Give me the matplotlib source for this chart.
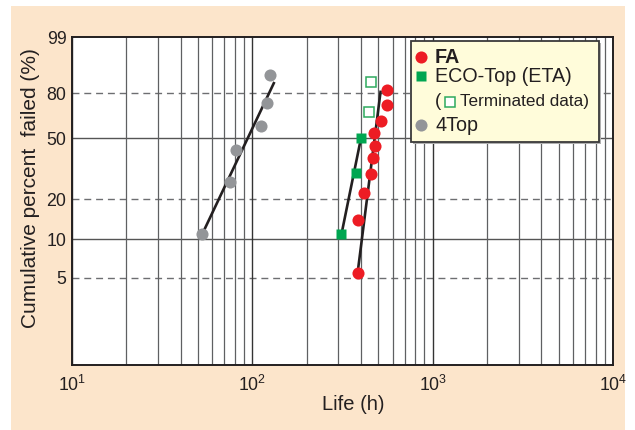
import matplotlib
matplotlib.use("Agg")
import matplotlib.pyplot as plt
import numpy as np
from matplotlib.patches import Rectangle

plt.rcParams['font.family'] = ['Liberation Sans', 'DejaVu Sans']
plt.rcParams['mathtext.fontset'] = 'custom'
plt.rcParams['mathtext.rm'] = 'Liberation Sans'

# values (life in h, cumulative failed in %)
fa_life = [384, 384, 415, 457, 466, 477, 473, 519, 557, 561]
fa_pct = [5.5, 14.1, 22.0, 29.8, 38.4, 45.4, 53.8, 61.4, 72.8, 82.1]
fa_fit_life = [385, 515]
fa_fit_pct = [5.7, 81.6]

eco_life = [312, 378, 401]
eco_pct = [10.9, 30.3, 50.5]
eco_term_life = [442, 457]
eco_term_pct = [68.1, 86.1]
eco_fit_life = [312, 401]
eco_fit_pct = [10.9, 50.5]

top4_life = [52.6, 74.9, 81.2, 111.8, 121.1, 125.9]
top4_pct = [10.9, 26.6, 42.5, 58.0, 73.9, 89.5]
top4_fit_life = [53.5, 132.5]
top4_fit_pct = [11.4, 86.3]

y_ticks = [5, 10, 20, 50, 80, 99]
x_decades = [10, 100, 1000, 10000]

RED = '#ED1C24'
GREEN = '#00A651'
GRAY = '#939598'
INK = '#231F20'


def weib(p):
    p = np.clip(np.asarray(p, dtype=float), 1e-6, 100 - 1e-6)
    return np.log(-np.log(1 - p / 100.0))


def weib_inv(w):
    return 100.0 * (1 - np.exp(-np.exp(w)))


fig = plt.figure(figsize=(6.35, 4.3), dpi=100)
fig.patch.set_facecolor('white')
fig.patches.append(Rectangle((11 / 635, 0), 614 / 635, 424 / 430,
                             transform=fig.transFigure, facecolor='#FCE5CB',
                             edgecolor='none', zorder=-10))

ax = fig.add_axes([72 / 635, 65 / 430, 541 / 635, 328 / 430])
ax.set_facecolor('white')
ax.set_xscale('log')
ax.set_yscale('function', functions=(weib, weib_inv))
ax.set_xlim(10, 1e4)
ax.set_ylim(1, 99)

ax.set_xticks(x_decades)
ax.set_xticklabels([r'$\mathregular{10^{%d}}$' % int(np.log10(v)) for v in x_decades])
ax.set_yticks(y_ticks)
ax.set_yticklabels([str(v) for v in y_ticks])
ax.yaxis.set_minor_locator(matplotlib.ticker.NullLocator())
ax.tick_params(axis='both', which='both', length=0, labelsize=12.8, labelcolor=INK)
ax.tick_params(axis='x', pad=7)
ax.tick_params(axis='y', pad=4)

# vertical grid at every 1..9 x decade
ax.grid(True, axis='x', which='minor', color='#5f6062', lw=0.9)
ax.grid(True, axis='x', which='major', color='#333333', lw=1.0)
for v in y_ticks[:-1]:
    if v in (10, 50):
        ax.axhline(v, color='#555555', lw=1.0, zorder=1)
    else:
        ax.axhline(v, color='#6d6e71', lw=1.0, dashes=(5, 3.5), zorder=1)

for s in ax.spines.values():
    s.set_color(INK)
    s.set_linewidth(1.4)

# fitted lines
for lx, ly in [(top4_fit_life, top4_fit_pct), (eco_fit_life, eco_fit_pct),
               (fa_fit_life, fa_fit_pct)]:
    ax.plot(lx, ly, color=INK, lw=1.9, zorder=3, solid_capstyle='butt')

ax.plot(top4_life, top4_pct, 'o', color=GRAY, ms=8.7, mec='none', zorder=4)
ax.plot(fa_life, fa_pct, 'o', color=RED, ms=8.7, mec='none', zorder=4)
ax.plot(eco_life, eco_pct, 's', color=GREEN, ms=7.7, mec='none', zorder=4)
ax.plot(eco_term_life, eco_term_pct, 's', mfc='white', mec='#2DAA5E', mew=1.1,
        ms=7.3, zorder=4)

# legend drawn by hand
x0, x1, y0, y1 = 0.6266, 0.974, 0.679, 0.987
ax.add_patch(Rectangle((x0 + 0.003, y0 - 0.005), x1 - x0, y1 - y0,
                       transform=ax.transAxes, facecolor='#B0B0B0',
                       edgecolor='none', zorder=5, clip_on=False))
ax.add_patch(Rectangle((x0, y0), x1 - x0, y1 - y0, transform=ax.transAxes,
                       facecolor='#FFFCDA', edgecolor='#3a3a3a', lw=1.3,
                       zorder=6, clip_on=False))
mx, tx = 0.6445, 0.671
rows = [0.939, 0.880, 0.802, 0.731]
ax.plot([mx], [rows[0]], 'o', color=RED, ms=8.7, mec='none',
        transform=ax.transAxes, zorder=7, clip_on=False)
ax.plot([mx], [rows[1]], 's', color=GREEN, ms=7.7, mec='none',
        transform=ax.transAxes, zorder=7, clip_on=False)
ax.plot([mx], [rows[3]], 'o', color=GRAY, ms=8.7, mec='none',
        transform=ax.transAxes, zorder=7, clip_on=False)
ax.plot([0.6987], [rows[2]], 's', mfc='white', mec='#2DAA5E', mew=1.1, ms=7.3,
        transform=ax.transAxes, zorder=7, clip_on=False)
ax.text(tx, rows[0], 'FA', fontsize=14.2, fontweight='bold', color=INK,
        transform=ax.transAxes, ha='left', va='center', zorder=7)
ax.text(tx, rows[1], 'ECO-Top (ETA)', fontsize=14.2, color=INK,
        transform=ax.transAxes, ha='left', va='center', zorder=7)
ax.text(tx, rows[2], '(', fontsize=13.5, color=INK,
        transform=ax.transAxes, ha='left', va='center', zorder=7)
ax.text(0.717, rows[2], 'Terminated data)', fontsize=12.3, color=INK,
        transform=ax.transAxes, ha='left', va='center', zorder=7)
ax.text(tx, rows[3], '4Top', fontsize=14.2, color=INK,
        transform=ax.transAxes, ha='left', va='center', zorder=7)

fig.text(30.5 / 635, 1 - 188.4 / 430, 'Cumulative percent  failed (%)',
         rotation=90, ha='center', va='center', fontsize=15, color=INK)
fig.text(353.4 / 635, 1 - 405 / 430, 'Life (h)', ha='center', va='center',
         fontsize=14.5, color=INK)

fig.savefig('out.png', dpi=100, facecolor=fig.get_facecolor())
